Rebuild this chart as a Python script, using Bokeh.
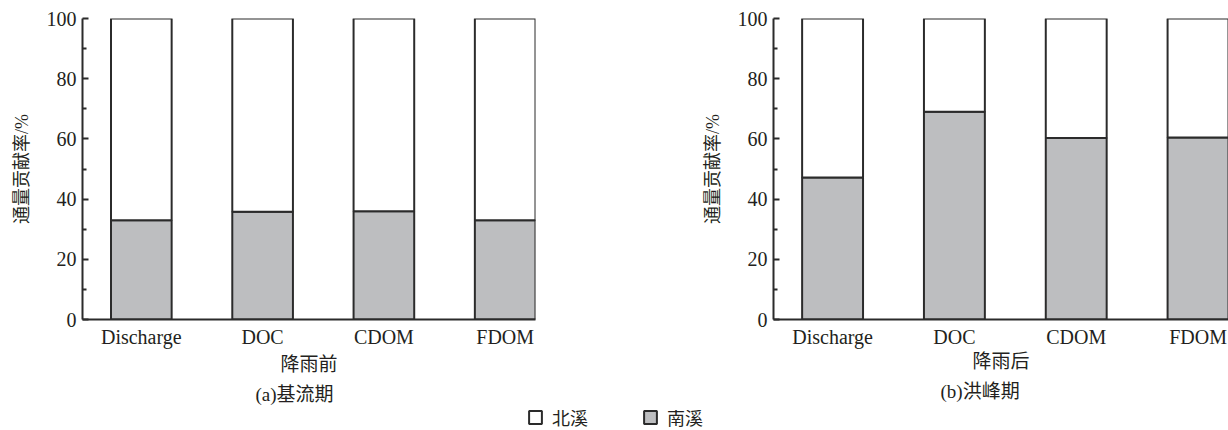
from bokeh.plotting import figure
from bokeh.layouts import row, column
from bokeh.models import (Range1d, FixedTicker, Legend, LegendItem, Title,
                          ColumnDataSource)
from bokeh.embed import file_html
from bokeh.resources import INLINE

# ---------------- data ----------------
categories = ["Discharge", "DOC", "CDOM", "FDOM"]
south_before = [33.0, 35.8, 36.0, 33.0]   # 南溪, 降雨前
north_before = [67.0, 64.2, 64.0, 67.0]   # 北溪, 降雨前
south_after = [47.2, 69.0, 60.3, 60.5]    # 南溪, 降雨后
north_after = [52.8, 31.0, 39.7, 39.5]    # 北溪, 降雨后
y_ticks = [0, 20, 40, 60, 80, 100]
y_minor_ticks = [10, 30, 50, 70, 90]
series_names = ["北溪", "南溪"]
x_titles = ["降雨前", "降雨后"]
panel_titles = ["(a)基流期", "(b)洪峰期"]
y_title = "通量贡献率/%"

# ---------------- style ----------------
GRAY = "#bdbec0"
EDGE = "#2b2b2b"
TXT = "#231f20"
SERIF = "Liberation Serif"
MIXED = "'Liberation Serif', 'Noto Sans CJK SC'"
SANS_CJK = "'Liberation Sans', 'Noto Sans CJK SC'"


def make_panel(south, north, xlab, ptitle, width, height, mb_left, mb_right,
               mb_top, mb_bottom, title_offset, xlab_standoff):
    xs = list(range(len(categories)))
    src = ColumnDataSource(dict(x=xs, south=south, north=north))
    p = figure(width=width, height=height, output_backend="svg",
               toolbar_location=None, x_range=Range1d(-0.485, 3.25),
               y_range=Range1d(0, 100), min_border_left=mb_left,
               min_border_right=mb_right, min_border_top=mb_top,
               min_border_bottom=mb_bottom)
    p.outline_line_color = None
    p.xgrid.visible = False
    p.ygrid.visible = False
    p.background_fill_color = "white"
    p.border_fill_color = "white"

    rs = p.vbar_stack(["south", "north"], x="x", width=0.5, source=src,
                      fill_color=[GRAY, "white"], line_color=EDGE,
                      line_width=2)

    # x axis
    xa = p.xaxis[0]
    xa.ticker = FixedTicker(ticks=xs)
    xa.major_label_overrides = {i: c for i, c in zip(xs, categories)}
    xa.axis_line_width = 2
    xa.axis_line_color = EDGE
    xa.major_tick_in = 0
    xa.major_tick_out = 0
    xa.minor_tick_in = 0
    xa.minor_tick_out = 0
    xa.major_label_standoff = 6
    xa.major_label_text_font = SERIF
    xa.major_label_text_font_size = "20px"
    xa.major_label_text_color = TXT
    xa.axis_label = xlab
    xa.axis_label_text_font = MIXED
    xa.axis_label_text_font_size = "19px"
    xa.axis_label_text_font_style = "normal"
    xa.axis_label_text_color = TXT
    xa.axis_label_standoff = xlab_standoff

    # y axis
    ya = p.yaxis[0]
    ya.ticker = FixedTicker(ticks=y_ticks, minor_ticks=y_minor_ticks)
    ya.axis_line_width = 2
    ya.axis_line_color = EDGE
    ya.major_tick_in = 6
    ya.major_tick_out = 0
    ya.minor_tick_in = 4
    ya.minor_tick_out = 0
    ya.major_tick_line_width = 2
    ya.minor_tick_line_width = 2
    ya.major_tick_line_color = EDGE
    ya.minor_tick_line_color = EDGE
    ya.major_label_standoff = 6
    ya.major_label_text_font = SERIF
    ya.major_label_text_font_size = "20px"
    ya.major_label_text_color = TXT
    ya.axis_label = y_title
    ya.axis_label_text_font = MIXED
    ya.axis_label_text_font_size = "18px"
    ya.axis_label_text_font_style = "normal"
    ya.axis_label_text_color = TXT
    ya.axis_label_standoff = 12

    p.add_layout(Title(text=ptitle, align="left", offset=title_offset,
                       text_font=MIXED, text_font_size="19px",
                       text_font_style="normal", text_color=TXT,
                       standoff=8), "below")
    return p, rs, src


ROW_H = 410
p1, rs1, src1 = make_panel(south_before, north_before, x_titles[0],
                           panel_titles[0], width=620, height=ROW_H,
                           mb_left=82, mb_right=85, mb_top=15,
                           mb_bottom=ROW_H - 319, title_offset=173,
                           xlab_standoff=3)
p2, rs2, src2 = make_panel(south_after, north_after, x_titles[1],
                           panel_titles[1], width=608, height=ROW_H,
                           mb_left=153, mb_right=0, mb_top=18,
                           mb_bottom=ROW_H - 322, title_offset=167,
                           xlab_standoff=0)

# ---------------- shared legend strip ----------------
# legend swatches come from hidden copies of the stacked bars (same data),
# so the legend keeps the real fill / outline styles of the two series
LEG_H = 430 - ROW_H
pl = figure(width=1228, height=LEG_H, output_backend="svg",
            toolbar_location=None, x_range=Range1d(-0.485, 3.25),
            y_range=Range1d(0, 100), min_border_left=0, min_border_right=0,
            min_border_top=0, min_border_bottom=0)
pl.axis.visible = False
pl.grid.visible = False
pl.outline_line_color = None
pl.border_fill_color = "white"
pl.background_fill_color = "white"
rl = pl.vbar_stack(["south", "north"], x="x", width=0.5, source=src1,
                   fill_color=[GRAY, "white"], line_color=EDGE,
                   line_width=2, visible=False)
legend = Legend(items=[LegendItem(label=series_names[0], renderers=[rl[1]]),
                       LegendItem(label=series_names[1], renderers=[rl[0]])],
                location=(527, 0), orientation="horizontal", glyph_width=16,
                glyph_height=16, label_height=16, label_standoff=9,
                padding=0, margin=0, spacing=54, border_line_color=None,
                background_fill_alpha=0, inactive_fill_alpha=0,
                label_text_font=SANS_CJK, label_text_font_size="18px",
                label_text_color=TXT)
pl.add_layout(legend, "center")

layout = column(row(p1, p2, spacing=0), pl, spacing=0)
open("out.html", "w").write(file_html(layout, INLINE))
